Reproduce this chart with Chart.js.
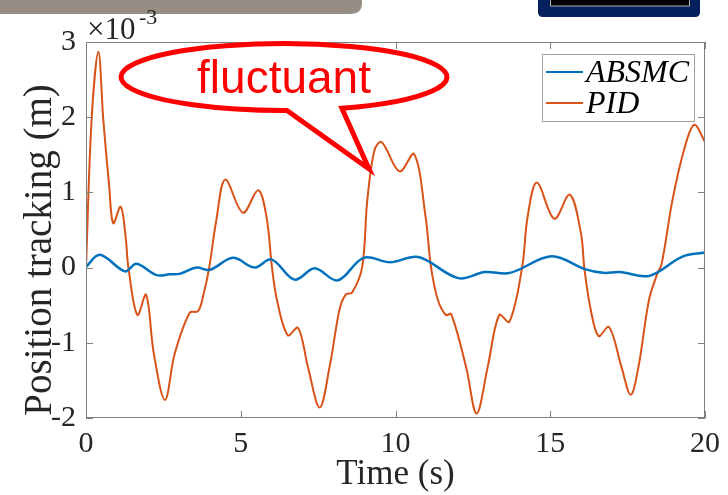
<!DOCTYPE html>
<html lang="en">
<head>
    <meta charset="UTF-8">
    <title>Position tracking</title>
    <script src="https://cdn.jsdelivr.net/npm/chart.js"></script>
    <style>
        body { margin: 0; background: #fff; }
    </style>
</head>
<body>
    <canvas id="myChart" width="728" height="495"></canvas>
    <script>
        // values are in units of 1e-3 m
        const absmcTime = [0, 0.45, 1.26, 1.63, 2.28, 2.7, 3.05, 3.57, 4.0, 4.75, 5.45, 5.99, 6.74, 7.39, 8.13, 8.97,
            9.83, 10.74, 12.03, 12.89, 13.7, 15.04, 16.12, 16.71, 17.25, 18.2, 19.27, 20];
        const absmcVals = [0.01, 0.17, -0.05, 0.05, -0.10, -0.09, -0.08, 0.0, -0.03, 0.13, 0.0, 0.11, -0.16, -0.01, -0.17, 0.13,
            0.07, 0.14, -0.14, -0.06, -0.07, 0.15, -0.02, -0.07, -0.06, -0.11, 0.145, 0.20];

        const pidTime = [0, 0.18, 0.4, 0.56, 0.75, 0.88, 1.12, 1.28, 1.37, 1.66, 1.94, 2.19, 2.55, 2.87, 3.35, 3.62, 3.8, 3.98,
            4.21, 4.5, 5.07, 5.56, 5.83, 6.01, 6.17, 6.52, 6.85, 7.17, 7.55, 7.87, 8.19, 8.39, 8.6, 8.92,
            9.09, 9.32, 9.55, 10.13, 10.6, 10.97, 11.15, 11.37, 11.63, 11.8, 12.28, 12.62, 12.98, 13.35, 13.68, 14.09,
            14.27, 14.57, 15.13, 15.63, 15.99, 16.1, 16.29, 16.56, 16.9, 17.3, 17.6, 17.85, 18.19, 18.46, 18.6,
            18.95, 19.32, 19.65, 20];
        const pidVals = [0, 1.96, 2.87, 1.96, 1.08, 0.59, 0.81, 0.41, 0, -0.63, -0.36, -1.14, -1.76, -1.14, -0.60, -0.58, -0.35, 0,
            0.63, 1.17, 0.73, 1.03, 0.68, 0, -0.43, -0.90, -0.80, -1.32, -1.86, -1.32, -0.56, -0.36, -0.33, 0,
            0.9, 1.56, 1.67, 1.28, 1.51, 0.68, 0, -0.43, -0.63, -0.62, -1.32, -1.94, -1.32, -0.63, -0.72, 0,
            0.68, 1.13, 0.65, 0.97, 0.46, 0, -0.52, -0.91, -0.79, -1.32, -1.69, -1.32, -0.43, -0.08, 0.05,
            0.9, 1.56, 1.90, 1.67];

        const xTicks = [0, 5, 10, 15, 20];
        const yTicks = [-2, -1, 0, 1, 2, 3];

        const seriesNames = ['ABSMC', 'PID'];
        const seriesColors = ['#0072BD', '#D95319'];

        const toPoints = (xs, ys) => xs.map((x, i) => ({ x: x, y: ys[i] }));

        const serif = '"Liberation Serif", "Times New Roman", serif';
        const textColor = '#262626';

        const decorations = {
            id: 'decorations',
            beforeDraw(chart) {
                const c = chart.ctx;
                c.save();
                c.fillStyle = '#fff';
                c.fillRect(0, 0, chart.width, chart.height);
                // grey band top left
                c.fillStyle = '#968e85';
                c.beginPath();
                c.moveTo(0, 0);
                c.lineTo(362, 0);
                c.lineTo(362, 3);
                c.quadraticCurveTo(362, 14, 350, 14);
                c.lineTo(0, 14);
                c.closePath();
                c.fill();
                // navy box top right
                c.fillStyle = '#04205e';
                c.beginPath();
                c.moveTo(538, 0);
                c.lineTo(700, 0);
                c.lineTo(700, 12);
                c.quadraticCurveTo(700, 17, 695, 17);
                c.lineTo(543, 17);
                c.quadraticCurveTo(538, 17, 538, 12);
                c.closePath();
                c.fill();
                c.fillStyle = '#000';
                c.fillRect(550, 0, 140, 6);
                c.strokeStyle = '#b0b0b0';
                c.lineWidth = 1;
                c.strokeRect(550.5, -1, 139, 7);
                c.restore();
            },
            afterDatasetsDraw(chart) {
                const c = chart.ctx;
                const a = chart.chartArea;
                const xs = chart.scales.x, ys = chart.scales.y;
                c.save();
                // box and inward ticks
                c.strokeStyle = '#808080';
                c.lineWidth = 1;
                c.strokeRect(a.left + 0.5, a.top + 0.5, a.right - a.left - 1, a.bottom - a.top - 1);
                c.beginPath();
                xTicks.forEach(v => {
                    const px = Math.round(xs.getPixelForValue(v)) + 0.5;
                    c.moveTo(px, a.bottom); c.lineTo(px, a.bottom - 7);
                    c.moveTo(px, a.top); c.lineTo(px, a.top + 7);
                });
                yTicks.forEach(v => {
                    const py = Math.round(ys.getPixelForValue(v)) + 0.5;
                    c.moveTo(a.left, py); c.lineTo(a.left + 7, py);
                    c.moveTo(a.right, py); c.lineTo(a.right - 7, py);
                });
                c.stroke();

                // axis titles
                c.fillStyle = textColor;
                c.textAlign = 'center';
                c.textBaseline = 'alphabetic';
                c.font = '35px ' + serif;
                c.fillText('Time (s)', (a.left + a.right) / 2, 484);
                c.save();
                c.translate(51, 250);
                c.rotate(-Math.PI / 2);
                c.font = '39px ' + serif;
                c.fillText('Position tracking (m)', 0, 0);
                c.restore();

                // exponent label
                c.textAlign = 'left';
                c.font = '31px ' + serif;
                c.fillText('\u00d710', 87, 39);
                c.font = '22px ' + serif;
                c.fillText('-3', 139, 24);

                // legend
                c.fillStyle = '#fff';
                c.fillRect(542, 54, 152, 67);
                c.strokeStyle = '#a0a0a0';
                c.strokeRect(542.5, 54.5, 152, 67);
                c.font = 'italic 32px ' + serif;
                c.textBaseline = 'middle';
                seriesNames.forEach((name, i) => {
                    const yy = 72 + i * 31;
                    c.strokeStyle = seriesColors[i];
                    c.lineWidth = 2;
                    c.beginPath();
                    c.moveTo(546, yy); c.lineTo(583, yy);
                    c.stroke();
                    c.fillStyle = '#000';
                    c.fillText(name, 586, yy + 2);
                });

                // callout
                c.strokeStyle = '#ff0000';
                c.fillStyle = '#fff';
                c.lineWidth = 5;
                const cx = 284, cy = 77, rx = 163, ry = 33.5;
                const a1 = Math.atan2((111 - cy) / ry, (287 - cx) / rx);
                const a2 = Math.atan2((110 - cy) / ry, (345 - cx) / rx);
                c.beginPath();
                c.ellipse(cx, cy, rx, ry, 0, a2, a1, true);
                c.lineTo(369, 169);
                c.closePath();
                c.fill();
                c.stroke();
                c.fillStyle = '#ff0000';
                c.font = '46px "Liberation Sans", Arial, sans-serif';
                c.textAlign = 'center';
                c.textBaseline = 'alphabetic';
                c.fillText('fluctuant', 284, 93);
                c.restore();
            }
        };

        const ctx = document.getElementById('myChart').getContext('2d');
        const trackChart = new Chart(ctx, {
            type: 'line',
            data: {
                datasets: [
                    {
                        label: seriesNames[0],
                        data: toPoints(absmcTime, absmcVals),
                        borderColor: seriesColors[0],
                        borderWidth: 2.5,
                        pointRadius: 0,
                        tension: 0.35
                    },
                    {
                        label: seriesNames[1],
                        data: toPoints(pidTime, pidVals),
                        borderColor: seriesColors[1],
                        borderWidth: 2,
                        pointRadius: 0,
                        tension: 0.35
                    }
                ]
            },
            options: {
                responsive: false,
                animation: false,
                events: [],
                layout: { padding: { top: 42, right: 22, left: 0, bottom: 0 } },
                plugins: {
                    legend: { display: false },
                    tooltip: { enabled: false }
                },
                scales: {
                    x: {
                        type: 'linear',
                        min: 0,
                        max: 20,
                        afterFit: s => { s.height = 77; },
                        afterBuildTicks: s => { s.ticks = xTicks.map(v => ({ value: v })); },
                        grid: { display: false, drawTicks: false },
                        border: { display: false },
                        ticks: {
                            padding: 8,
                            color: textColor,
                            font: { family: serif, size: 30 },
                            maxRotation: 0
                        }
                    },
                    y: {
                        min: -2,
                        max: 3,
                        afterFit: s => { s.width = 86; },
                        afterBuildTicks: s => { s.ticks = yTicks.map(v => ({ value: v })); },
                        grid: { display: false, drawTicks: false },
                        border: { display: false },
                        ticks: {
                            padding: 10,
                            color: textColor,
                            font: { family: serif, size: 30 }
                        }
                    }
                }
            },
            plugins: [decorations]
        });
    </script>
</body>
</html>
